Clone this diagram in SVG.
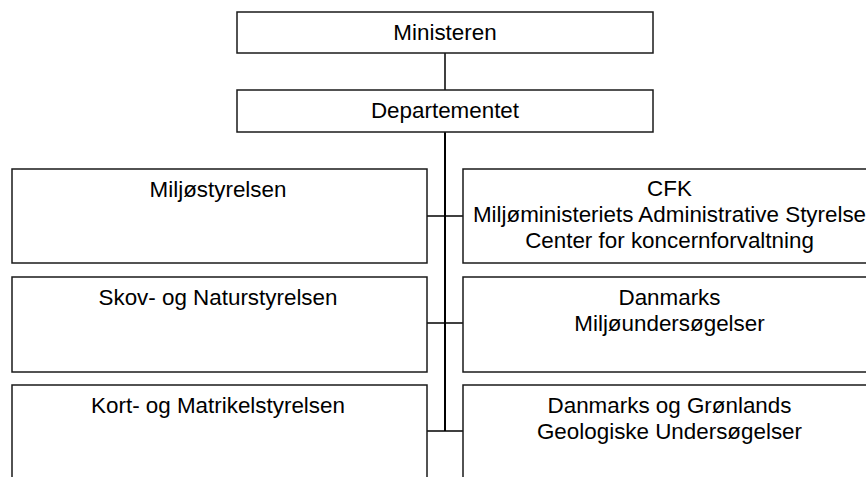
<svg xmlns="http://www.w3.org/2000/svg" width="866" height="477" viewBox="0 0 866 477">
<style>
.box{fill:#fff;stroke:#1a1a1a;stroke-width:1.5}
.t{font-family:"Liberation Sans",Arial,sans-serif;font-size:22.4px;fill:#000;text-anchor:middle}
.c{stroke:#000;stroke-width:1.5;fill:none}
.trunk{stroke:#000;stroke-width:2;fill:none}
</style>
<rect width="866" height="477" fill="#fff"/>
<g id="connectors">
<line class="c" x1="445" y1="53" x2="445" y2="90"/>
<line class="trunk" x1="445" y1="132" x2="445" y2="431"/>
<line class="c" x1="427" y1="216" x2="463" y2="216"/>
<line class="c" x1="427" y1="323" x2="463" y2="323"/>
<line class="c" x1="427" y1="431" x2="463" y2="431"/>
</g>
<g id="ministeren">
<rect class="box" x="237" y="12" width="416" height="41"/>
<text class="t" x="445" y="39.5">Ministeren</text>
</g>
<g id="departementet">
<rect class="box" x="237" y="90" width="416" height="42"/>
<text class="t" x="445" y="118">Departementet</text>
</g>
<g id="miljostyrelsen">
<rect class="box" x="12" y="169" width="415" height="94"/>
<text class="t" x="218" y="197">Miljøstyrelsen</text>
</g>
<g id="cfk">
<rect class="box" x="463" y="169" width="413" height="94"/>
<text class="t" x="669.5" y="196">CFK</text>
<text class="t" x="669.5" y="222">Miljøministeriets Administrative Styrelse</text>
<text class="t" x="669.5" y="248">Center for koncernforvaltning</text>
</g>
<g id="skov">
<rect class="box" x="12" y="277" width="415" height="95"/>
<text class="t" x="218" y="305">Skov- og Naturstyrelsen</text>
</g>
<g id="dmu">
<rect class="box" x="463" y="277" width="413" height="95"/>
<text class="t" x="669.5" y="305">Danmarks</text>
<text class="t" x="669.5" y="331">Miljøundersøgelser</text>
</g>
<g id="kort">
<rect class="box" x="12" y="385" width="415" height="110"/>
<text class="t" x="218" y="413">Kort- og Matrikelstyrelsen</text>
</g>
<g id="geus">
<rect class="box" x="463" y="385" width="413" height="110"/>
<text class="t" x="669.5" y="413">Danmarks og Grønlands</text>
<text class="t" x="669.5" y="439">Geologiske Undersøgelser</text>
</g>
</svg>
